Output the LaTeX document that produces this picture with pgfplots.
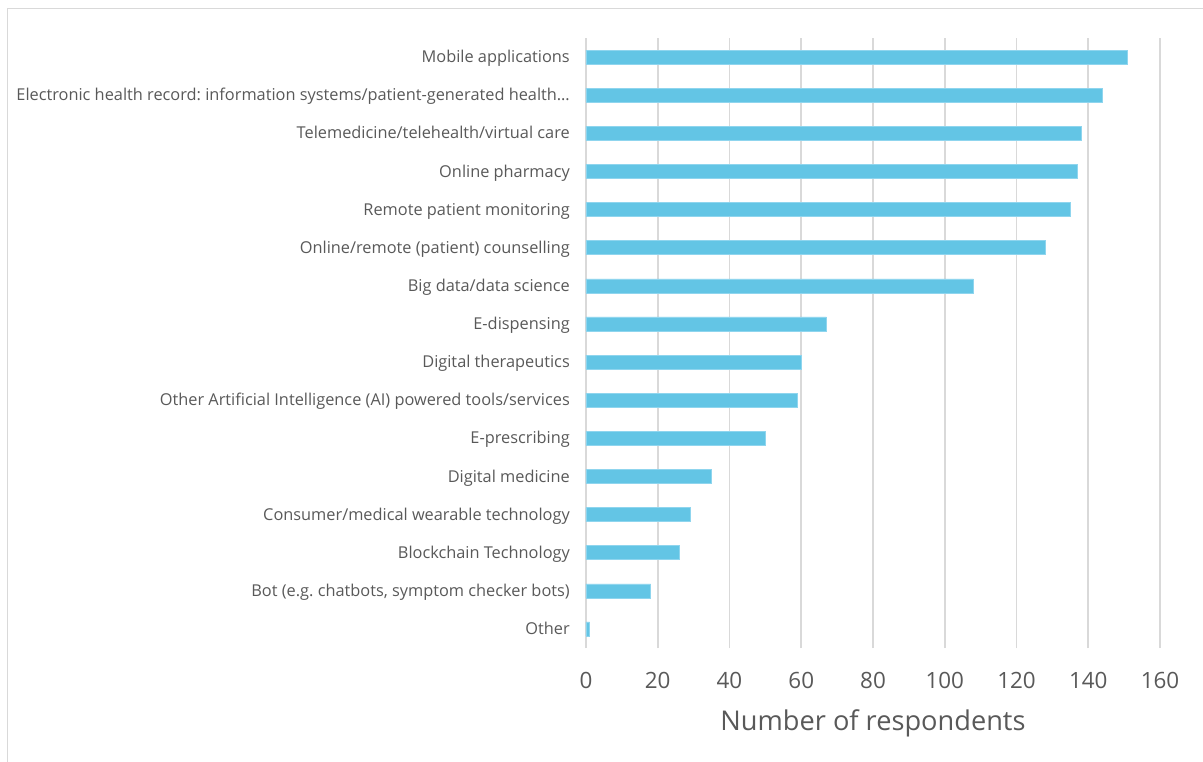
\documentclass[border=0pt]{standalone}
\usepackage{fontspec}
\setmainfont{Open Sans}
\usepackage{pgfplots}
\pgfplotsset{compat=1.18}
\definecolor{barblue}{HTML}{63C5E5}
\definecolor{barline}{HTML}{8FD5EE}
\definecolor{gridgray}{HTML}{D9D9D9}
\definecolor{txtgray}{HTML}{595959}
\frenchspacing
\begin{document}
\begin{tikzpicture}
\begin{axis}[
 scale only axis, width=574bp, height=610bp,
 xbar, bar width=14bp, bar shift=0pt,
 xmin=0, xmax=160, ymin=-0.5, ymax=15.5,
 xtick={0,20,...,160}, ytick={0,...,15},
 yticklabels={Other, {Bot (e.g. chatbots, symptom checker bots)}, Blockchain Technology, Consumer/medical wearable technology, Digital medicine, E-prescribing, Other Artificial Intelligence (AI) powered tools/services, Digital therapeutics, E-dispensing~, Big data/data science, Online/remote (patient) counselling, Remote patient monitoring, Online pharmacy, Telemedicine/telehealth/virtual care, {Electronic health record: information systems/patient-generated health…}, Mobile applications~},
 axis line style={draw=none}, major tick length=0pt,
 xmajorgrids, grid style={draw=gridgray, line width=1.6bp},
 /pgf/number format/assume math mode=true,
 xticklabel style={font=\fontsize{22.5}{27}\selectfont, text=txtgray, anchor=base, inner sep=0pt, yshift=-40bp},
 yticklabel style={font=\frenchspacing\fontsize{16.4}{20}\selectfont, text=txtgray, anchor=mid east, inner sep=0pt, xshift=-16bp, yshift=-3bp},
 xlabel={Number of respondents},
 xlabel style={font=\fontsize{27.3}{32}\selectfont, text=txtgray, at={(axis description cs:0.5,0)}, anchor=base, inner sep=0pt, yshift=-82bp},
]
\addplot[fill=barblue, draw=barline, line width=0.6bp] coordinates {
(1,0) (18,1) (26,2) (29,3) (35,4) (50,5) (59,6) (60,7) (67,8) (108,9) (128,10) (135,11) (137,12) (138,13) (144,14) (151,15)};
\end{axis}
\draw[gridgray, line width=1bp] (-578bp,-114bp) -- (-578bp,639bp) -- (617bp,639bp);
\pgfresetboundingbox
\path (-586bp,-114bp) rectangle (617bp,648bp);
\end{tikzpicture}
\end{document}
